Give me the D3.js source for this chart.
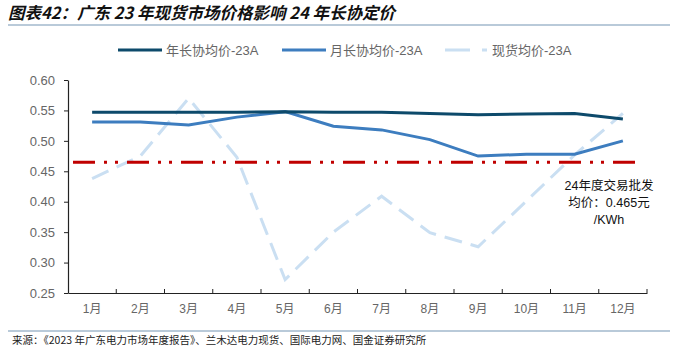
<!DOCTYPE html>
<html>
<head>
<meta charset="utf-8">
<script src="https://cdn.jsdelivr.net/npm/d3@7"></script>
<style>
  body { margin: 0; background: #fff; }
  svg { display: block; font-family: "Liberation Sans", Arial, "Noto Sans CJK SC", sans-serif; }
</style>
</head>
<body>
<svg id="chart" width="678" height="352"></svg>
<script>
// data
var months = ["1月", "2月", "3月", "4月", "5月", "6月", "7月", "8月", "9月", "10月", "11月", "12月"];
var yearLong = [0.547, 0.547, 0.547, 0.547, 0.548, 0.547, 0.547, 0.545, 0.543, 0.544, 0.545, 0.536];
var monthLong = [0.531, 0.531, 0.526, 0.539, 0.548, 0.524, 0.518, 0.502, 0.475, 0.478, 0.478, 0.500];
var spot = [0.438, 0.475, 0.570, 0.473, 0.272, 0.350, 0.409, 0.349, 0.326, 0.401, 0.477, 0.545];
var benchmark = 0.465;
var yTicks = [0.25, 0.30, 0.35, 0.40, 0.45, 0.50, 0.55, 0.60];

var series = [
  { name: "年长协均价-23A", values: yearLong, color: "#0d4a6b", dash: null },
  { name: "月长协均价-23A", values: monthLong, color: "#3d7dbf", dash: null },
  { name: "现货均价-23A", values: spot, color: "#cadff2", dash: "18,9" }
];

var svg = d3.select("#chart");
var plotL = 68, plotR = 647, plotT = 80, plotB = 293;

var x = d3.scaleBand().domain(months).range([plotL, plotR]);
var y = d3.scaleLinear().domain([0.25, 0.60]).range([plotB, plotT]);

// title + rules
svg.append("text")
  .attr("x", 8).attr("y", 19)
  .attr("font-family", "'Noto Sans CJK SC', sans-serif")
  .attr("font-size", 16.5).attr("font-weight", "bold").attr("font-style", "italic")
  .attr("fill", "#111")
  .text("图表42：广东 23 年现货市场价格影响 24 年长协定价");

svg.append("line").attr("x1", 8).attr("x2", 670).attr("y1", 25).attr("y2", 25)
  .attr("stroke", "#b9cad9").attr("stroke-width", 2);
svg.append("line").attr("x1", 8).attr("x2", 670).attr("y1", 331).attr("y2", 331)
  .attr("stroke", "#b9cad9").attr("stroke-width", 2);

svg.append("text")
  .attr("x", 12).attr("y", 344)
  .attr("font-family", "'Noto Sans CJK SC', sans-serif")
  .attr("font-size", 10.5).attr("fill", "#222")
  .text("来源：《2023 年广东电力市场年度报告》、兰木达电力现货、国际电力网、国金证券研究所");

// legend
var legendX = [118, 282, 445];
var lg = svg.append("g").selectAll("g").data(series).enter().append("g")
  .attr("transform", function(d, i) { return "translate(" + legendX[i] + ",50)"; });
lg.append("line")
  .attr("x1", 0).attr("x2", function(d, i) { return i == 2 ? 42 : 44; })
  .attr("stroke", function(d) { return d.color; })
  .attr("stroke-width", 3)
  .attr("stroke-dasharray", function(d) { return d.dash ? "25,12" : null; });
lg.append("text")
  .attr("x", function(d, i) { return i == 2 ? 47 : 48; }).attr("y", 4.5)
  .attr("font-size", 13).attr("fill", "#666")
  .text(function(d) { return d.name; });

// axes
var yAxis = svg.append("g")
  .attr("transform", "translate(" + plotL + ",0)")
  .call(d3.axisLeft(y).tickValues(yTicks).tickFormat(d3.format(".2f")).tickSize(4).tickSizeOuter(0));
yAxis.select(".domain").attr("stroke", "#222").attr("stroke-width", 1.2);
yAxis.selectAll(".tick line").attr("stroke", "#222");
yAxis.selectAll(".tick text").attr("x", -13).attr("font-size", 13).attr("fill", "#666")
  .attr("font-family", "'Liberation Sans', Arial, sans-serif");

var xAxis = svg.append("g")
  .attr("transform", "translate(0," + plotB + ")")
  .call(d3.axisBottom(x).tickSize(0).tickSizeOuter(0));
xAxis.select(".domain").attr("stroke", "#222").attr("stroke-width", 1.2);
xAxis.selectAll(".tick text").attr("dy", 0).attr("y", 20).attr("font-size", 12).attr("fill", "#666")
  .attr("font-family", "'Liberation Sans', 'Noto Sans CJK SC', sans-serif");

// band boundary ticks, pointing up
var bounds = months.slice(1).map(function(m) { return x(m); }).concat([plotR]);
svg.append("g").selectAll("line").data(bounds).enter().append("line")
  .attr("x1", function(d) { return d; }).attr("x2", function(d) { return d; })
  .attr("y1", plotB).attr("y2", plotB - 4)
  .attr("stroke", "#222").attr("stroke-width", 1);

// series lines
var line = d3.line()
  .x(function(d, i) { return x(months[i]) + x.bandwidth() / 2; })
  .y(function(d) { return y(d); });

svg.append("g").selectAll("path").data(series.slice().reverse()).enter().append("path")
  .attr("d", function(d) { return line(d.values); })
  .attr("fill", "none")
  .attr("stroke", function(d) { return d.color; })
  .attr("stroke-width", 3)
  .attr("stroke-dasharray", function(d) { return d.dash; });

// benchmark line
svg.append("line")
  .attr("x1", 73).attr("x2", 643)
  .attr("y1", y(benchmark)).attr("y2", y(benchmark))
  .attr("stroke", "#c00000").attr("stroke-width", 3)
  .attr("stroke-dasharray", "22,9,3,8,3,9");

// annotation
var note = svg.append("text")
  .attr("text-anchor", "middle").attr("font-size", 12.5).attr("fill", "#111")
  .attr("font-family", "'Liberation Sans', 'Noto Sans CJK SC', sans-serif");
["24年度交易批发", "均价：0.465元", "/KWh"].forEach(function(t, i) {
  note.append("tspan").attr("x", 609).attr("y", 190 + i * 17).text(t);
});
</script>
</body>
</html>
